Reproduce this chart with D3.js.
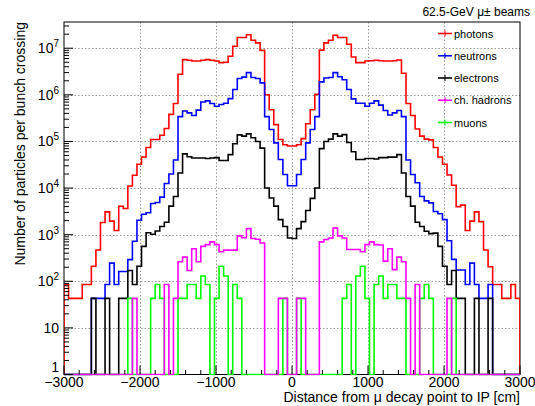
<!DOCTYPE html>
<html>
<head>
<meta charset="utf-8">
<script src="https://cdn.jsdelivr.net/npm/d3@7"></script>
<style>
body { margin: 0; background: #fff; }
svg text { font-family: "Liberation Sans", Arial, sans-serif; }
</style>
</head>
<body>
<svg width="535" height="406"></svg>
<script>
// 100 bins of 60 cm, from -3000 to 3000
var binEdges = d3.range(-3000, 3001, 60)

var photons = [85, 43, 43, 43, 85, 85, 210, 470, 1820, 3080,
    1950, 1230, 4070, 3630, 11100, 18800, 32400, 46500, 74000, 110000,
    110000, 136000, 190000, 380000, 650000, 2770000, 5700000, 5500000, 5300000, 5300000,
    5500000, 5700000, 5500000, 5300000, 4900000, 5000000, 6700000, 11000000, 17000000, 17000000,
    19500000, 14800000, 13000000, 9000000, 1000000, 480000, 230000, 110000, 85000, 80000,
    80000, 85000, 115000, 240000, 480000, 1020000, 9100000, 13000000, 14800000, 19000000,
    17000000, 17000000, 12200000, 6500000, 4900000, 4900000, 5300000, 5400000, 5500000, 5400000,
    5300000, 5300000, 5400000, 5600000, 2900000, 650000, 360000, 185000, 130000, 112000,
    108000, 74000, 46500, 32400, 19000, 11500, 4000, 4300, 1230, 1950,
    3080, 1900, 470, 205, 85, 85, 43, 43, 85, 43]

var neutrons = [0, 0, 0, 0, 0, 0, 43, 43, 43, 85,
    245, 85, 162, 162, 292, 720, 2040, 2750, 2950, 4650,
    4900, 6400, 12500, 20000, 40000, 340000, 450000, 410000, 360000, 470000,
    700000, 740000, 650000, 570000, 620000, 660000, 830000, 1300000, 2240000, 2400000,
    3000000, 2350000, 2240000, 1800000, 340000, 180000, 93000, 41000, 19500, 11200,
    11200, 19500, 41000, 93000, 180000, 340000, 1900000, 2300000, 2350000, 3000000,
    2450000, 2100000, 1300000, 820000, 660000, 660000, 570000, 660000, 740000, 600000,
    460000, 370000, 410000, 460000, 340000, 40000, 19500, 13000, 6600, 5300,
    4800, 3150, 2800, 2100, 740, 295, 175, 175, 85, 245,
    85, 43, 43, 85, 0, 0, 0, 0, 0, 0]

var electrons = [0, 0, 0, 0, 0, 0, 43, 0, 0, 43,
    0, 0, 43, 43, 170, 85, 210, 560, 1100, 1020,
    1200, 1500, 1850, 4100, 6600, 21000, 54000, 47000, 44000, 44000,
    44000, 43000, 44000, 45000, 39000, 39000, 52000, 89000, 138000, 130000,
    145000, 120000, 100000, 72000, 10000, 6100, 4100, 2100, 1500, 850,
    830, 1350, 1900, 3300, 6000, 10000, 70000, 100000, 112000, 145000,
    130000, 140000, 95000, 60000, 41000, 41000, 43000, 43000, 42000, 45000,
    45000, 46000, 46000, 52000, 21000, 6600, 4100, 1850, 1500, 1180,
    1050, 1080, 560, 210, 85, 170, 43, 43, 0, 0,
    43, 0, 0, 43, 0, 0, 0, 0, 0, 0]

var chHadrons = [0, 0, 0, 0, 0, 0, 0, 0, 0, 0,
    0, 0, 0, 0, 0, 43, 0, 0, 0, 0,
    0, 0, 85, 0, 43, 263, 330, 170, 500, 263,
    560, 610, 700, 610, 430, 465, 465, 465, 940, 860,
    1350, 830, 800, 660, 0, 0, 0, 43, 43, 0,
    0, 43, 43, 0, 0, 0, 700, 790, 850, 1380,
    940, 850, 480, 480, 480, 430, 610, 700, 610, 600,
    270, 500, 178, 330, 263, 43, 0, 85, 0, 0,
    0, 0, 0, 0, 43, 0, 0, 0, 0, 0,
    0, 0, 0, 0, 0, 0, 0, 0, 0, 0]

var muons = [0, 0, 0, 0, 0, 0, 0, 0, 0, 0,
    0, 0, 0, 0, 43, 0, 0, 0, 0, 43,
    85, 43, 0, 0, 0, 43, 43, 85, 85, 43,
    130, 85, 0, 43, 210, 130, 0, 85, 43, 0,
    0, 0, 0, 0, 0, 0, 0, 0, 43, 0,
    0, 43, 0, 0, 0, 0, 0, 0, 0, 0,
    0, 43, 85, 0, 130, 210, 43, 0, 85, 130,
    43, 85, 85, 43, 43, 0, 0, 0, 43, 85,
    43, 0, 0, 0, 0, 43, 0, 0, 0, 0,
    0, 0, 0, 0, 0, 0, 0, 0, 0, 0]

var seriesNames = ["photons", "neutrons", "electrons", "ch. hadrons", "muons"]
var seriesColors = ["#ff0000", "#0000ff", "#000000", "#ff00ff", "#00ff00"]
var seriesData = [photons, neutrons, electrons, chHadrons, muons]
var drawOrder = [0, 1, 2, 4, 3]

var xTickMajor = [-3000, -2000, -1000, 0, 1000, 2000, 3000]
var xTickLabels = ["\u22123000", "\u22122000", "\u22121000", "0", "1000", "2000", "3000"]
var yTickMajor = [1, 10, 100, 1e3, 1e4, 1e5, 1e6, 1e7]

var margin = {top: 22, right: 15, bottom: 31.5, left: 64}
var width = 535, height = 406
var yMin = 1, yMax = 3.65e7

var svg = d3.select("svg")

var x = d3.scaleLinear().domain([-3000, 3000]).range([margin.left, width - margin.right])
var y = d3.scaleLog().domain([yMin, yMax]).range([height - margin.bottom, margin.top])

var x0 = x.range()[0], x1 = x.range()[1], yb = y.range()[0], yt = y.range()[1]

svg.append("defs").append("clipPath").attr("id", "frame")
    .append("rect").attr("x", x0).attr("y", yt).attr("width", x1 - x0).attr("height", yb - yt + 1)

// grid
var grid = svg.append("g").attr("stroke", "#9a9a9a").attr("stroke-width", 1).attr("stroke-dasharray", "1.5,2")
grid.selectAll(".gx").data(xTickMajor.slice(1, -1)).enter().append("line")
    .attr("x1", d => Math.round(x(d)) + 0.5).attr("x2", d => Math.round(x(d)) + 0.5)
    .attr("y1", yt).attr("y2", yb)
grid.selectAll(".gy").data(yTickMajor.slice(1)).enter().append("line")
    .attr("x1", x0).attr("x2", x1)
    .attr("y1", d => Math.round(y(d)) + 0.5).attr("y2", d => Math.round(y(d)) + 0.5)

// frame (drawn under the histograms, as ROOT does)
svg.append("rect").attr("x", x0).attr("y", yt).attr("width", x1 - x0).attr("height", yb - yt)
    .attr("fill", "none").attr("stroke", "#000").attr("stroke-width", 1)

// histograms
var line = d3.line().curve(d3.curveStepAfter)
function histPoints(vals) {
    var pts = [[x(binEdges[0]), yb]]
    vals.forEach(function(v, i) {
        pts.push([x(binEdges[i]), v > 0 ? y(v) : yb])
    })
    pts.push([x(binEdges[vals.length]), vals[vals.length - 1] > 0 ? y(vals[vals.length - 1]) : yb])
    pts.push([x(binEdges[vals.length]), yb])
    return pts
}

var hists = svg.append("g").attr("clip-path", "url(#frame)")
drawOrder.forEach(function(k) {
    hists.append("path")
        .attr("d", line(histPoints(seriesData[k])))
        .attr("fill", "none")
        .attr("stroke", seriesColors[k])
        .attr("stroke-width", 1.6)
})

// x ticks
var xt = svg.append("g").attr("stroke", "#000").attr("stroke-width", 1)
d3.range(-3000, 3001, 200).forEach(function(v) {
    var major = v % 1000 === 0
    xt.append("line").attr("x1", x(v)).attr("x2", x(v)).attr("y1", yb).attr("y2", yb - (major ? 9 : 4.5))
})
svg.append("g").selectAll("text").data(xTickMajor).enter().append("text")
    .attr("x", d => x(d)).attr("y", yb + 12)
    .attr("text-anchor", "middle").attr("font-size", 14)
    .text((d, i) => xTickLabels[i])

// y ticks (log)
var yt_ = svg.append("g").attr("stroke", "#000").attr("stroke-width", 1)
yTickMajor.forEach(function(v) {
    yt_.append("line").attr("x1", x0).attr("x2", x0 + 9).attr("y1", y(v)).attr("y2", y(v))
    d3.range(2, 10).forEach(function(m) {
        var vv = v * m
        if (vv < yMax) yt_.append("line").attr("x1", x0).attr("x2", x0 + 5).attr("y1", y(vv)).attr("y2", y(vv))
    })
})
var ylab = svg.append("g").attr("font-size", 14).attr("text-anchor", "end")
yTickMajor.forEach(function(v) {
    var e = Math.round(Math.log10(v))
    var t = ylab.append("text").attr("x", x0 - 5).attr("y", e === 0 ? yb - 3 : y(v) + 5)
    if (e === 0) t.text("1")
    else if (e === 1) t.text("10")
    else {
        t.append("tspan").text("10")
        t.append("tspan").attr("font-size", 10).attr("dy", -6).text(e)
    }
})

// axis titles
svg.append("text").attr("x", x1).attr("y", 402).attr("text-anchor", "end").attr("font-size", 14)
    .text("Distance from \u03bc decay point to IP [cm]")
svg.append("text").attr("transform", "translate(25," + yt + ") rotate(-90)")
    .attr("text-anchor", "end").attr("font-size", 14)
    .text("Number of particles per bunch crossing")

// title
svg.append("text").attr("x", 530).attr("y", 16).attr("text-anchor", "end").attr("font-size", 12)
    .text("62.5-GeV \u03bc\u00b1 beams")

// legend
var leg = svg.append("g")
seriesNames.forEach(function(name, i) {
    var ly = 33.5 + i * 22.25
    leg.append("line").attr("x1", 438).attr("x2", 452).attr("y1", ly).attr("y2", ly)
        .attr("stroke", seriesColors[i]).attr("stroke-width", 1.6)
    leg.append("line").attr("x1", 445).attr("x2", 445).attr("y1", ly - 3).attr("y2", ly + 3)
        .attr("stroke", seriesColors[i]).attr("stroke-width", 1)
    leg.append("text").attr("x", 454).attr("y", ly + 4).attr("font-size", 11).text(name)
})
</script>
</body>
</html>
